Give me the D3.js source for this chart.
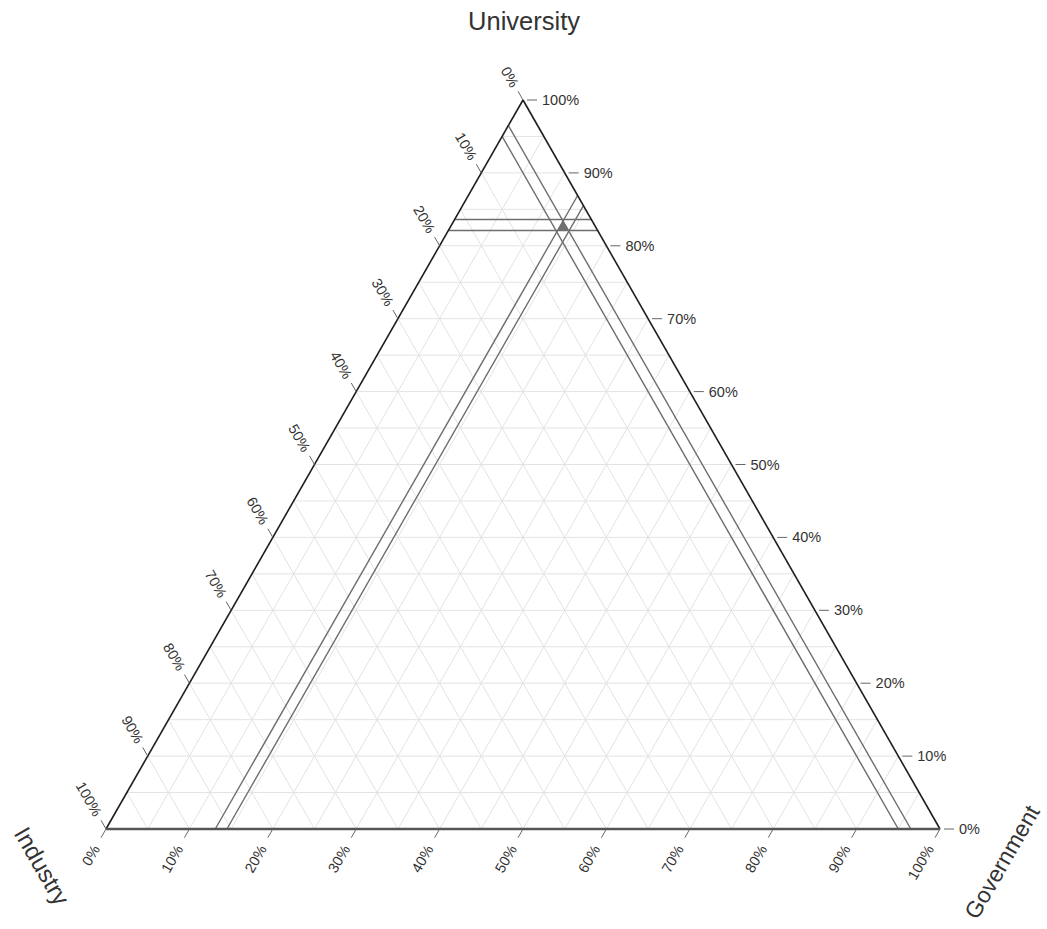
<!DOCTYPE html>
<html>
<head>
<meta charset="utf-8">
<script src="https://cdn.jsdelivr.net/npm/d3@7"></script>
<style>
  html, body { margin: 0; padding: 0; background: #fff; }
  svg { display: block; font-family: "Liberation Sans", Arial, sans-serif; }
</style>
</head>
<body>
<svg id="chart" width="1047" height="929"></svg>
<script>
// Axis names (one per corner of the triangle)
const axisNames = ["Industry", "University", "Government"];
// Tick positions and their labels, shared by all three axes
const tickValues = [0, 10, 20, 30, 40, 50, 60, 70, 80, 90, 100];
const tickLabels = ["0%", "10%", "20%", "30%", "40%", "50%", "60%", "70%", "80%", "90%", "100%"];
// Light grid every 5 %
const gridValues = [5, 10, 15, 20, 25, 30, 35, 40, 45, 50, 55, 60, 65, 70, 75, 80, 85, 90, 95];
// Share ranges (percent) for each sector
const industryRange = [3.5, 5.0];
const universityRange = [82.1, 83.6];
const governmentRange = [13.1, 14.5];

const svg = d3.select("#chart");

// Triangle corners
const cornerIndustry = { x: 106, y: 829 };
const cornerUniversity = { x: 523, y: 100 };
const cornerGovernment = { x: 940, y: 829 };

// Scales: Government runs along the base, University runs up the height
const govX = d3.scaleLinear().domain([0, 100]).range([0, cornerGovernment.x - cornerIndustry.x]);
const uniY = d3.scaleLinear().domain([0, 100]).range([cornerIndustry.y, cornerUniversity.y]);
const uniShift = d3.scaleLinear().domain([0, 100]).range([0, cornerUniversity.x - cornerIndustry.x]);

// Ternary (industry, university, government) -> screen point
function project(ind, uni, gov) {
  return [cornerIndustry.x + govX(gov) + uniShift(uni), uniY(uni)];
}

function unit(dx, dy) {
  const l = Math.hypot(dx, dy);
  return [dx / l, dy / l];
}

const line = d3.line();

// ---- grid ----
const grid = svg.append("g").attr("stroke", "#e3e3e3").attr("stroke-width", 1).attr("fill", "none");
gridValues.forEach(v => {
  // constant University
  grid.append("path").attr("d", line([project(100 - v, v, 0), project(0, v, 100 - v)]));
  // constant Government
  grid.append("path").attr("d", line([project(100 - v, 0, v), project(0, 100 - v, v)]));
  // constant Industry
  grid.append("path").attr("d", line([project(v, 100 - v, 0), project(v, 0, 100 - v)]));
});

// ---- range lines ----
const rangeG = svg.append("g").attr("stroke", "#6e6e6e").attr("stroke-width", 1.4).attr("fill", "none");
universityRange.forEach(v => {
  rangeG.append("path").attr("d", line([project(100 - v, v, 0), project(0, v, 100 - v)]));
});
governmentRange.forEach(v => {
  rangeG.append("path").attr("d", line([project(100 - v, 0, v), project(0, 100 - v, v)]));
});
industryRange.forEach(v => {
  rangeG.append("path").attr("d", line([project(v, 100 - v, 0), project(v, 0, 100 - v)]));
});

// ---- feasible region: clip the simplex by the three ranges ----
function clip(poly, f) {
  const out = [];
  for (let k = 0; k < poly.length; k++) {
    const a = poly[k], b = poly[(k + 1) % poly.length];
    const fa = f(a), fb = f(b);
    if (fa >= 0) out.push(a);
    if ((fa >= 0) !== (fb >= 0)) {
      const t = fa / (fa - fb);
      out.push([a[0] + t * (b[0] - a[0]), a[1] + t * (b[1] - a[1]), a[2] + t * (b[2] - a[2])]);
    }
  }
  return out;
}
let region = [[100, 0, 0], [0, 100, 0], [0, 0, 100]];
region = clip(region, p => p[0] - industryRange[0]);
region = clip(region, p => industryRange[1] - p[0]);
region = clip(region, p => p[1] - universityRange[0]);
region = clip(region, p => universityRange[1] - p[1]);
region = clip(region, p => p[2] - governmentRange[0]);
region = clip(region, p => governmentRange[1] - p[2]);
if (region.length > 2) {
  svg.append("path")
    .attr("d", line(region.map(p => project(p[0], p[1], p[2]))) + "Z")
    .attr("fill", "#6f6f6f")
    .attr("stroke", "#6f6f6f")
    .attr("stroke-width", 0.8);
}

// ---- triangle edges ----
const edges = svg.append("g").attr("fill", "none");
edges.append("path").attr("d", line([[cornerIndustry.x, cornerIndustry.y], [cornerUniversity.x, cornerUniversity.y]]))
  .attr("stroke", "#1e1e1e").attr("stroke-width", 1.6);
edges.append("path").attr("d", line([[cornerUniversity.x, cornerUniversity.y], [cornerGovernment.x, cornerGovernment.y]]))
  .attr("stroke", "#1e1e1e").attr("stroke-width", 1.6);
edges.append("path").attr("d", line([[cornerIndustry.x, cornerIndustry.y], [cornerGovernment.x, cornerGovernment.y]]))
  .attr("stroke", "#555").attr("stroke-width", 2.6);

// ---- axes: ticks + labels ----
const tickLen = 10;
const axes = [
  { // Industry along the left edge, ticks point up-left
    at: v => project(v, 100 - v, 0),
    dir: unit(cornerUniversity.x - cornerGovernment.x, cornerUniversity.y - cornerGovernment.y),
    gap: 16, anchor: "end", rotate: 60
  },
  { // University along the right edge, ticks point right
    at: v => project(0, v, 100 - v),
    dir: [1, 0], gap: 19, anchor: "start", rotate: 0
  },
  { // Government along the base, ticks point down-left
    at: v => project(100 - v, 0, v),
    dir: unit(cornerIndustry.x - cornerUniversity.x, cornerIndustry.y - cornerUniversity.y),
    gap: 20, anchor: "end", rotate: -60
  }
];

axes.forEach(ax => {
  const g = svg.append("g");
  tickValues.forEach((v, k) => {
    const p = ax.at(v);
    const start = ax.rotate === 0 ? 4 : 0;
    g.append("line")
      .attr("x1", p[0] + ax.dir[0] * start).attr("y1", p[1] + ax.dir[1] * start)
      .attr("x2", p[0] + ax.dir[0] * (start + tickLen)).attr("y2", p[1] + ax.dir[1] * (start + tickLen))
      .attr("stroke", "#666").attr("stroke-width", 1);
    const lx = p[0] + ax.dir[0] * ax.gap, ly = p[1] + ax.dir[1] * ax.gap;
    g.append("text")
      .attr("transform", `translate(${lx},${ly}) rotate(${ax.rotate})`)
      .attr("text-anchor", ax.anchor)
      .attr("dominant-baseline", "central")
      .attr("font-size", 14.5)
      .attr("fill", "#333")
      .text(tickLabels[k]);
  });
});

// ---- axis titles ----
const titles = [
  { name: axisNames[0], x: 42, y: 866, rotate: 60, size: 24 },
  { name: axisNames[1], x: 524, y: 21, rotate: 0, size: 25.5 },
  { name: axisNames[2], x: 1002, y: 862, rotate: -60, size: 23 }
];
titles.forEach(t => {
  svg.append("text")
    .attr("transform", `translate(${t.x},${t.y}) rotate(${t.rotate})`)
    .attr("text-anchor", "middle")
    .attr("dominant-baseline", "central")
    .attr("font-size", t.size)
    .attr("fill", "#333")
    .text(t.name);
});
</script>
</body>
</html>
